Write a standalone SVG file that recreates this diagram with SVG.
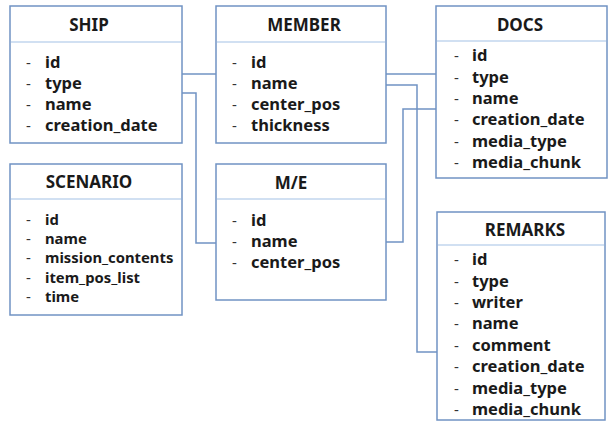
<svg xmlns="http://www.w3.org/2000/svg" width="611" height="421" viewBox="0 0 611 421">
<style>
.box{fill:#ffffff;stroke:#7093c3;stroke-width:1.5}
.hdr{stroke:#c2d6ee;stroke-width:1.5}
.conn{fill:none;stroke:#7093c3;stroke-width:1.5}
.t{font-family:"Noto Sans","Liberation Sans",sans-serif;font-weight:bold;font-size:17px;fill:#1a1a1a;text-anchor:middle}
.i{font-family:"Noto Sans","Liberation Sans",sans-serif;font-weight:bold;font-size:16.5px;fill:#1a1a1a}
.s{font-family:"Noto Sans","Liberation Sans",sans-serif;font-weight:bold;font-size:14.8px;fill:#1a1a1a}
.d{font-family:"Noto Sans","Liberation Sans",sans-serif;font-size:15px;fill:#333333}
</style>
<rect width="611" height="421" fill="#ffffff"/>
<g id="connectors">
<path class="conn" d="M182,74 H216"/>
<path class="conn" d="M182,93 H196 V243 H216"/>
<path class="conn" d="M386,74 H436"/>
<path class="conn" d="M386,85 H417 V352 H437"/>
<path class="conn" d="M386,242 H403 V109 H436"/>
</g>
<g id="ship">
<rect class="box" x="10" y="6" width="172" height="137"/>
<line class="hdr" x1="11" y1="42" x2="181" y2="42"/>
<text class="t" x="89" y="31">SHIP</text>
<text class="d" x="26" y="68">-</text><text class="i" x="45" y="68">id</text>
<text class="d" x="26" y="89">-</text><text class="i" x="45" y="89">type</text>
<text class="d" x="26" y="110">-</text><text class="i" x="45" y="110">name</text>
<text class="d" x="26" y="131">-</text><text class="i" x="45" y="131">creation_date</text>
</g>
<g id="member">
<rect class="box" x="216" y="6" width="170" height="137"/>
<line class="hdr" x1="217" y1="42" x2="385" y2="42"/>
<text class="t" x="304" y="31">MEMBER</text>
<text class="d" x="232" y="68">-</text><text class="i" x="251" y="68">id</text>
<text class="d" x="232" y="89">-</text><text class="i" x="251" y="89">name</text>
<text class="d" x="232" y="110">-</text><text class="i" x="251" y="110">center_pos</text>
<text class="d" x="232" y="131">-</text><text class="i" x="251" y="131">thickness</text>
</g>
<g id="docs">
<rect class="box" x="436" y="6" width="171" height="172"/>
<line class="hdr" x1="437" y1="41" x2="606" y2="41"/>
<text class="t" x="520" y="31">DOCS</text>
<text class="d" x="454" y="61">-</text><text class="i" x="472" y="61">id</text>
<text class="d" x="454" y="82.5">-</text><text class="i" x="472" y="82.5">type</text>
<text class="d" x="454" y="104">-</text><text class="i" x="472" y="104">name</text>
<text class="d" x="454" y="125">-</text><text class="i" x="472" y="125">creation_date</text>
<text class="d" x="454" y="146.5">-</text><text class="i" x="472" y="146.5">media_type</text>
<text class="d" x="454" y="168">-</text><text class="i" x="472" y="168">media_chunk</text>
</g>
<g id="scenario">
<rect class="box" x="10" y="164" width="172" height="151"/>
<line class="hdr" x1="11" y1="199" x2="181" y2="199"/>
<text class="t" x="89" y="188">SCENARIO</text>
<text class="d" x="26" y="225">-</text><text class="s" x="45" y="225">id</text>
<text class="d" x="26" y="244">-</text><text class="s" x="45" y="244">name</text>
<text class="d" x="26" y="263">-</text><text class="s" x="45" y="263">mission_contents</text>
<text class="d" x="26" y="283">-</text><text class="s" x="45" y="283">item_pos_list</text>
<text class="d" x="26" y="302">-</text><text class="s" x="45" y="302">time</text>
</g>
<g id="me">
<rect class="box" x="216" y="164" width="170" height="136"/>
<line class="hdr" x1="217" y1="199" x2="385" y2="199"/>
<text class="t" x="291" y="189">M/E</text>
<text class="d" x="232" y="226">-</text><text class="i" x="251" y="226">id</text>
<text class="d" x="232" y="247">-</text><text class="i" x="251" y="247">name</text>
<text class="d" x="232" y="268">-</text><text class="i" x="251" y="268">center_pos</text>
</g>
<g id="remarks">
<rect class="box" x="437" y="212" width="168" height="208"/>
<line class="hdr" x1="438" y1="245" x2="604" y2="245"/>
<text class="t" x="525" y="236">REMARKS</text>
<text class="d" x="454" y="265">-</text><text class="i" x="472" y="265">id</text>
<text class="d" x="454" y="286.5">-</text><text class="i" x="472" y="286.5">type</text>
<text class="d" x="454" y="308">-</text><text class="i" x="472" y="308">writer</text>
<text class="d" x="454" y="329">-</text><text class="i" x="472" y="329">name</text>
<text class="d" x="454" y="351">-</text><text class="i" x="472" y="351">comment</text>
<text class="d" x="454" y="372">-</text><text class="i" x="472" y="372">creation_date</text>
<text class="d" x="454" y="393.5">-</text><text class="i" x="472" y="393.5">media_type</text>
<text class="d" x="454" y="415">-</text><text class="i" x="472" y="415">media_chunk</text>
</g>
</svg>
